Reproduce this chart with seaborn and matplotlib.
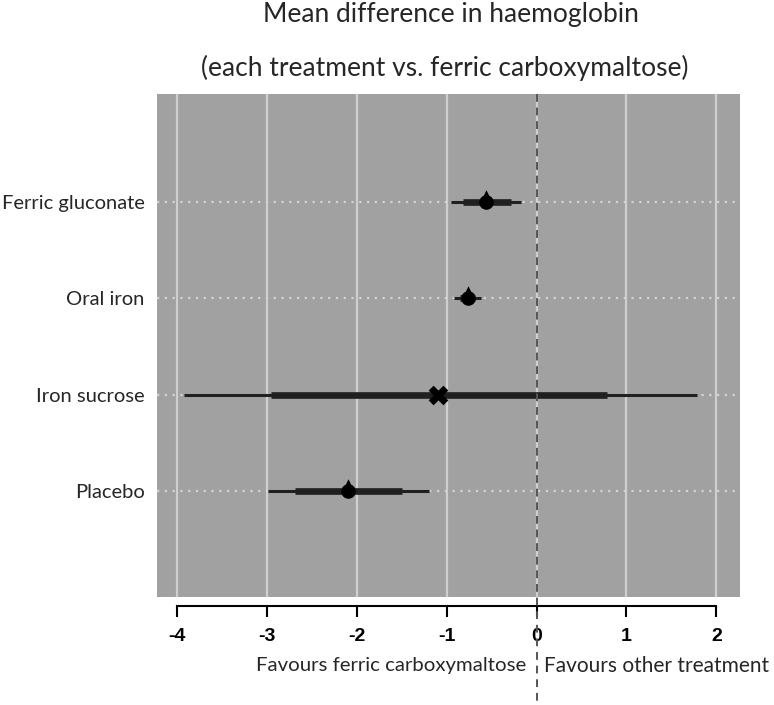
"""Forest plot: mean difference in haemoglobin vs. ferric carboxymaltose."""

import matplotlib

matplotlib.use("Agg")
import matplotlib.pyplot as plt
import pandas as pd
import seaborn as sns

treatments = ["Ferric gluconate", "Oral iron", "Iron sucrose", "Placebo"]
mean_diff = [-0.56, -0.76, -1.09, -2.10]
ci_low = [-0.95, -0.92, -3.92, -2.98]
ci_high = [-0.17, -0.62, 1.78, -1.20]
inner_low = [-0.82, -0.85, -2.95, -2.68]
inner_high = [-0.28, -0.68, 0.78, -1.50]
marker_kind = ["point", "point", "cross", "point"]
x_ticks = [-4, -3, -2, -1, 0, 1, 2]


def main() -> None:
    sns.set_theme(style="white")
    plt.rcParams["font.family"] = ["Lato", "DejaVu Sans"]

    df = pd.DataFrame(
        {
            "treatment": treatments,
            "pos": [4, 3, 2, 1],
            "mean": mean_diff,
            "lo": ci_low,
            "hi": ci_high,
            "ilo": inner_low,
            "ihi": inner_high,
            "kind": marker_kind,
        }
    )

    fig = plt.figure(figsize=(7.74, 7.05), dpi=100)
    ax = fig.add_axes([0.2028, 0.1532, 0.753, 0.7135])
    ax.set_facecolor("#a1a1a1")

    for x in x_ticks:
        ax.axvline(x, color="#cfcfcf", lw=1.6, zorder=1)
    for y in df["pos"]:
        ax.axhline(y, color="#d4d4d4", lw=1.6, ls=(0, (1, 2.5)), zorder=1)

    ax.hlines(df["pos"], df["lo"], df["hi"], color="#202020", lw=2.2, zorder=3)
    ax.hlines(df["pos"], df["ilo"], df["ihi"], color="#202020", lw=4.8, zorder=3)

    pts = df[df["kind"] == "point"]
    sns.scatterplot(data=pts, x="mean", y="pos", marker="o", s=110, color="black",
                    edgecolor="black", linewidth=0, zorder=4, ax=ax)
    sns.scatterplot(x=pts["mean"], y=pts["pos"] + 0.06, marker="^", s=80, color="black",
                    edgecolor="black", linewidth=0, zorder=4, ax=ax)
    crosses = df[df["kind"] == "cross"]
    sns.scatterplot(data=crosses, x="mean", y="pos", marker="X", s=200, color="black",
                    edgecolor="black", linewidth=0, zorder=4, ax=ax)

    # zero line runs down through the "favours" captions
    ax.plot([0, 0], [1, -0.21], transform=ax.get_xaxis_transform(), color="#555555",
            lw=1.4, ls=(0, (4, 3)), clip_on=False, zorder=5)

    for side in ["top", "right", "left"]:
        ax.spines[side].set_visible(False)
    ax.spines["bottom"].set_position(("outward", 6.5))
    ax.spines["bottom"].set_bounds(-4, 2)
    ax.spines["bottom"].set_linewidth(1.5)
    ax.spines["bottom"].set_color("black")

    ax.set_xlim(-4.22, 2.26)
    ax.set_ylim(-0.1, 5.12)
    ax.set_xticks(x_ticks)
    ax.set_xticklabels([str(t) for t in x_ticks], fontweight="bold", fontsize=14,
                       family=["Liberation Sans", "DejaVu Sans"])
    ax.set_yticks(df["pos"])
    ax.set_yticklabels(df["treatment"], fontsize=14.5)
    ax.tick_params(axis="y", length=0, pad=9)
    ax.tick_params(axis="x", length=8, width=1.5, color="black", pad=8, direction="out",
                   bottom=True, labelcolor="black")
    ax.set_xlabel("")
    ax.set_ylabel("")

    ax.text(-0.11, -0.137, "Favours ferric carboxymaltose", transform=ax.get_xaxis_transform(),
            ha="right", va="center", fontsize=14.7)
    ax.text(0.08, -0.137, "Favours other treatment", transform=ax.get_xaxis_transform(),
            ha="left", va="center", fontsize=15)

    fig.text(0.582, 0.969, "Mean difference in haemoglobin", ha="center", va="baseline",
             fontsize=19)
    fig.text(0.575, 0.892, "(each treatment vs. ferric carboxymaltose)", ha="center",
             va="baseline", fontsize=19)

    fig.savefig("out.png", dpi=100)
    plt.close(fig)


if __name__ == "__main__":
    main()
